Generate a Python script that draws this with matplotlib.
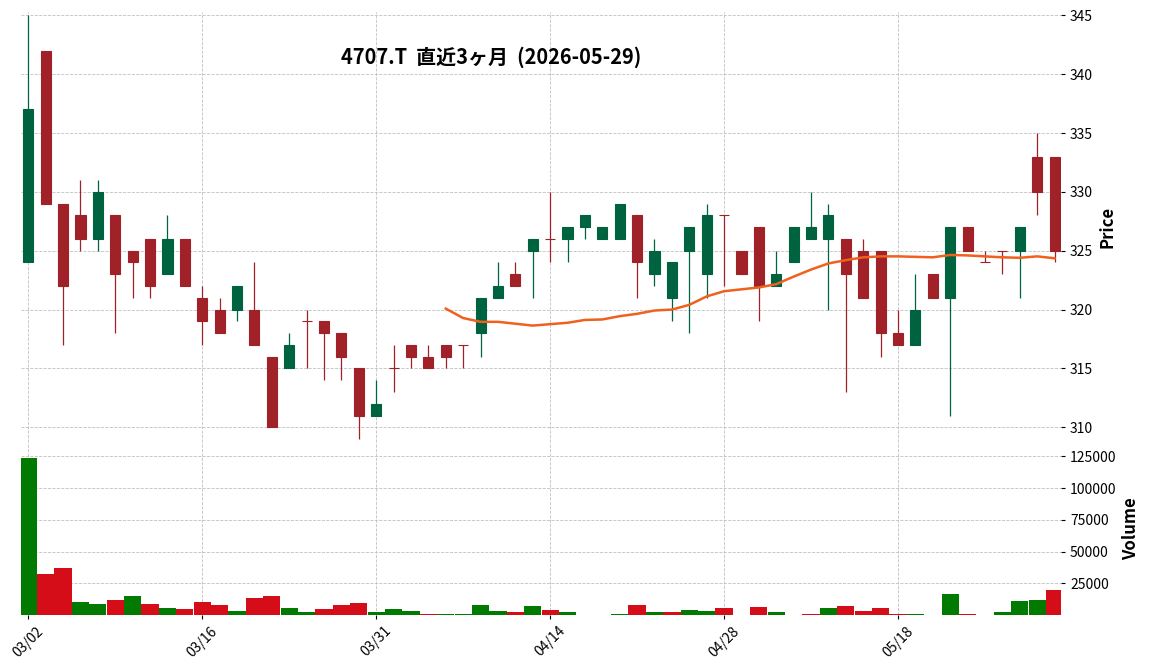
import numpy as np
import matplotlib
matplotlib.use('Agg')
import matplotlib.pyplot as plt
from matplotlib.ticker import FixedLocator, FixedFormatter

plt.rcParams['font.family'] = ['Noto Sans CJK JP', 'DejaVu Sans']

title = '4707.T  直近3ヶ月  (2026-05-29)'

dates = ['03/02', '03/03', '03/04', '03/05', '03/06', '03/09', '03/10', '03/11', '03/12', '03/13',
         '03/16', '03/17', '03/18', '03/19', '03/23', '03/24', '03/25', '03/26', '03/27', '03/30',
         '03/31', '04/01', '04/02', '04/03', '04/06', '04/07', '04/08', '04/09', '04/10', '04/13',
         '04/14', '04/15', '04/16', '04/17', '04/20', '04/21', '04/22', '04/23', '04/24', '04/27',
         '04/28', '04/30', '05/01', '05/07', '05/08', '05/11', '05/12', '05/13', '05/14', '05/15',
         '05/18', '05/19', '05/20', '05/21', '05/22', '05/25', '05/26', '05/27', '05/28', '05/29']

opens = [324, 342, 329, 328, 326, 328, 325, 326, 323, 326,
         321, 320, 320, 320, 316, 315, 319, 319, 318, 315,
         311, 315, 317, 316, 317, 317, 318, 321, 323, 325,
         326, 326, 327, 326, 326, 328, 323, 321, 325, 323,
         328, 325, 327, 322, 324, 326, 326, 326, 325, 325,
         318, 317, 323, 321, 327, 324, 325, 325, 333, 333]
highs = [345, 342, 329, 331, 331, 328, 325, 326, 328, 326,
         322, 321, 322, 324, 316, 318, 320, 319, 318, 315,
         314, 317, 317, 317, 317, 317, 321, 324, 324, 326,
         330, 327, 328, 327, 329, 328, 326, 324, 327, 329,
         328, 325, 327, 325, 327, 330, 329, 326, 326, 325,
         320, 323, 323, 327, 327, 325, 325, 327, 335, 333]
lows = [324, 329, 317, 325, 325, 318, 321, 321, 323, 322,
        317, 318, 319, 317, 310, 315, 315, 314, 314, 309,
        311, 313, 315, 315, 315, 315, 316, 321, 322, 321,
        324, 324, 326, 326, 326, 321, 322, 319, 318, 321,
        322, 323, 319, 322, 324, 326, 320, 313, 321, 316,
        317, 317, 321, 311, 325, 324, 323, 321, 328, 324]
closes = [337, 329, 322, 326, 330, 323, 324, 322, 326, 322,
          319, 318, 322, 317, 310, 317, 319, 318, 316, 311,
          312, 315, 316, 315, 316, 317, 321, 322, 322, 326,
          326, 327, 328, 327, 329, 324, 325, 324, 327, 328,
          328, 323, 322, 323, 327, 327, 328, 323, 321, 318,
          317, 320, 321, 327, 325, 324, 325, 327, 330, 325]
volumes = [123700, 32300, 37000, 10300, 8800, 11900, 15000, 8800, 5600, 4800,
           10300, 8000, 3300, 13500, 15000, 5600, 2200, 4800, 8000, 9500,
           2200, 4800, 3300, 1200, 1200, 1200, 8000, 3300, 2200, 7200,
           4100, 2200, 300, 300, 1200, 8000, 2200, 2200, 4100, 3300,
           5600, 300, 6400, 2200, 300, 1200, 5600, 7200, 3300, 5600,
           1200, 1200, 300, 16600, 1200, 300, 2200, 11100, 11900, 19800]

mav_period = 25

UP, DOWN = '#006340', '#a02128'
VUP, VDOWN = '#007a00', '#d50d18'
MA_COLOR = '#f0601e'
GRID = '#c0c0c0'

o = np.array(opens, float)
h = np.array(highs, float)
l = np.array(lows, float)
c = np.array(closes, float)
v = np.array(volumes, float)
x = np.arange(len(dates))

W, H = 1152, 671
fig = plt.figure(figsize=(W / 100, H / 100), dpi=100)
left, right = 21 / W, 1061 / W
p_top, p_bot = 1 - 12 / H, 1 - 442.24 / H
v_bot = 1 - 614.94 / H
ax = fig.add_axes([left, p_bot, right - left, p_top - p_bot])
axv = fig.add_axes([left, v_bot, right - left, p_bot - v_bot], sharex=ax)

# candles
ccol = [UP if cc > oo else DOWN for oo, cc in zip(o, c)]
ax.vlines(x, l, h, colors=ccol, linewidth=0.9, zorder=2)
ax.bar(x, np.abs(c - o), bottom=np.minimum(o, c), width=0.58, color=ccol,
       edgecolor=ccol, linewidth=0.8, zorder=3)

# moving average
ma = np.convolve(c, np.ones(mav_period) / mav_period, mode='valid')
ax.plot(x[mav_period - 1:], ma, color=MA_COLOR, linewidth=1.8, zorder=4)

rng = h.max() - l.min()
ax.set_ylim(l.min() - 0.0075 * rng, h.max() + 0.0078 * rng)
ax.set_xlim(-0.42, 59.37)

# volume
vcol = [VUP if c[0] > o[0] else VDOWN]
vcol += [VUP if c[i] > c[i - 1] else VDOWN for i in range(1, len(c))]
axv.bar(x, v, width=0.99, color=vcol, linewidth=0, zorder=3)
axv.set_ylim(0.3 * v.min(), 1.1 * v.max())

ticks = list(range(0, len(dates), 10))
for a in (ax, axv):
    for s in a.spines.values():
        s.set_visible(False)
    a.set_facecolor('white')
    a.grid(True, linestyle='--', color=GRID, linewidth=0.6, zorder=0)
    a.set_axisbelow(True)
    a.yaxis.tick_right()
    a.yaxis.set_label_position('right')
    a.tick_params(axis='y', left=False, right=True, labelleft=False, labelright=True,
                  length=3, width=0.8, labelsize=10, pad=3.5)

axv.xaxis.set_major_locator(FixedLocator(ticks))
axv.xaxis.set_major_formatter(FixedFormatter([dates[i] for i in ticks]))
ax.tick_params(axis='x', bottom=False, labelbottom=False)
axv.tick_params(axis='x', length=3, width=0.8, labelsize=10, labelrotation=45)

ax.set_yticks([310, 315, 320, 325, 330, 335, 340, 345])
axv.set_yticks([25000, 50000, 75000, 100000, 125000])
axv.set_yticklabels([f'{t}' for t in [25000, 50000, 75000, 100000, 125000]])

ax.set_ylabel('Price', fontsize=12, fontweight='bold')
axv.set_ylabel('Volume', fontsize=12, fontweight='bold')

fig.text(491 / W, 1 - 57 / H, title, ha='center', va='center', fontsize=14.4, fontweight='bold')

fig.savefig('out.png', dpi=100)
